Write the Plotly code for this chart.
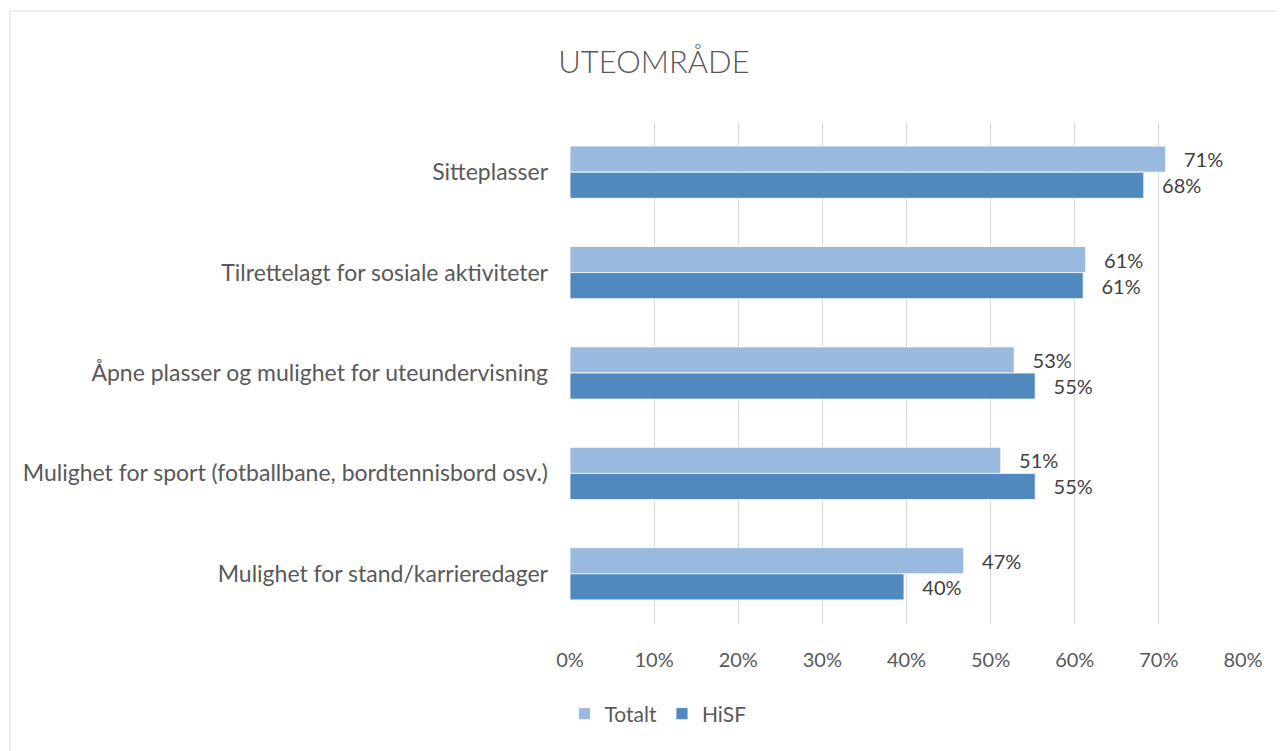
import plotly.graph_objects as go

categories = [
    "Sitteplasser",
    "Tilrettelagt for sosiale aktiviteter",
    "Åpne plasser og mulighet for uteundervisning",
    "Mulighet for sport (fotballbane, bordtennisbord osv.)",
    "Mulighet for stand/karrieredager",
]
totalt = [0.708, 0.613, 0.528, 0.512, 0.468]
hisf = [0.682, 0.610, 0.553, 0.553, 0.397]
x_ticks = [0, 0.1, 0.2, 0.3, 0.4, 0.5, 0.6, 0.7, 0.8]
x_tick_labels = ["0%", "10%", "20%", "30%", "40%", "50%", "60%", "70%", "80%"]

NB = "\u00a0"
def lbl(vals):
    return [NB * 3 + f"{round(v * 100)}%" for v in vals]

font_family = "Lato, 'Open Sans', sans-serif"
text_color = "#404040"

# page has an 8px body margin; work in page pixel coords and shift
OFF = 8
W, H = 1285 - OFF, 751 - OFF
PL, PR, PT, PB = 570, 1243, 122, 624  # plot area in page coords
L = PL - OFF
T = PT - OFF
R = W - (PR - OFF)
B = H - (PB - OFF)
pw, ph = W - L - R, H - T - B

def px(x):
    return (x - OFF - L) / pw

def py(y):
    return 1 - (y - OFF - T) / ph

fig = go.Figure()
fig.add_trace(go.Bar(
    y=categories, x=totalt, name="Totalt", orientation="h",
    marker=dict(color="#99B9DF", line=dict(color="#FFFFFF", width=0.8)),
    text=lbl(totalt), textposition="outside", cliponaxis=False,
    textfont=dict(size=20, color=text_color, family=font_family),
))
fig.add_trace(go.Bar(
    y=categories, x=hisf, name="HiSF", orientation="h",
    marker=dict(color="#4F89BD", line=dict(color="#FFFFFF", width=0.8)),
    text=lbl(hisf), textposition="outside", cliponaxis=False,
    textfont=dict(size=20, color=text_color, family=font_family),
))

fig.update_layout(
    width=W, height=H,
    margin=dict(l=L, r=R, t=T, b=B, autoexpand=False),
    paper_bgcolor="white", plot_bgcolor="white",
    barmode="group", bargap=0.48, bargroupgap=0,
    font=dict(family=font_family, color=text_color, size=20),
    title=dict(
        text="UTEOMRÅDE", x=px(654), xref="paper", xanchor="center",
        y=1 - (62 - OFF) / H, yanchor="middle",
        font=dict(size=31, color="#595959", family=font_family, weight=300),
    ),
    xaxis=dict(
        range=[0, 0.8], tickvals=x_ticks, ticktext=x_tick_labels,
        showgrid=True, gridcolor="#D9D9D9", gridwidth=1,
        zeroline=False, showline=False, ticks="",
        tickfont=dict(size=20, color="#595959"),
        ticklabelstandoff=22,
    ),
    yaxis=dict(
        autorange="reversed", showgrid=False, zeroline=False, showline=False,
        ticks="", tickfont=dict(size=23, color="#595959"),
        ticklabelstandoff=21,
    ),
    legend=dict(
        orientation="h", x=px(658), xanchor="center",
        y=py(714), yanchor="middle",
        font=dict(size=21, color="#595959"), itemwidth=30,
        traceorder="normal",
    ),
    shapes=[dict(
        type="rect", xref="paper", yref="paper",
        x0=px(10), x1=px(1300),
        y0=py(770), y1=py(11),
        line=dict(color="#D9D9D9", width=1), fillcolor="rgba(0,0,0,0)",
        layer="below",
    )],
)

fig.write_html("out.html")
